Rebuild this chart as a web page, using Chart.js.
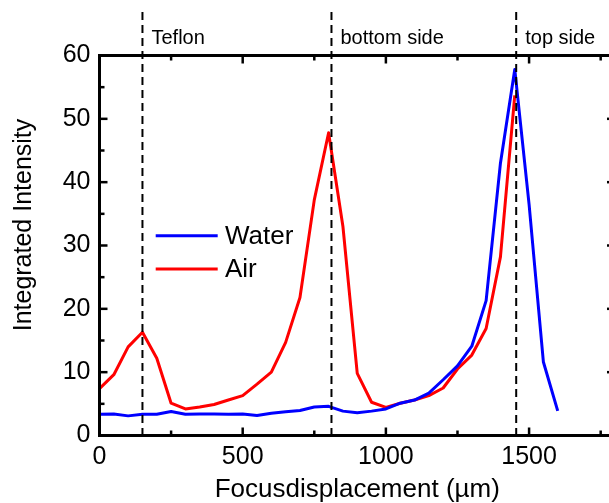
<!DOCTYPE html>
<html><head><meta charset="utf-8">
<script src="https://cdn.jsdelivr.net/npm/chart.js@4.4.0/dist/chart.umd.min.js"></script>
<style>
html,body{margin:0;padding:0;background:#fff;overflow:hidden}
#wrap{width:609px;height:503px;overflow:hidden;position:relative;background:#fff}
#c{position:absolute;left:0;top:0}
</style></head><body>
<div id="wrap"><canvas id="c" width="640" height="503"></canvas></div>
<script>
const xPositions = [0,50,100,150,200,250,300,350,400,450,500,550,600,650,700,750,800,850,900,950,1000,1050,1100,1150,1200,1250,1300,1350,1400,1450,1500,1550,1600];
const waterValues = [3.35,3.4,3.1,3.35,3.35,3.8,3.35,3.4,3.4,3.35,3.4,3.15,3.5,3.75,3.95,4.5,4.6,3.85,3.6,3.85,4.2,5.1,5.6,6.7,8.8,11.0,14.1,21.3,43,57.8,36.5,11.6,3.9];
const airValues = [7.4,9.6,14.0,16.3,12.2,5.1,4.2,4.5,4.9,5.6,6.3,8.1,10.0,14.7,21.8,37.2,47.8,33.0,9.8,5.25,4.45,5.1,5.6,6.3,7.5,10.5,12.7,16.9,28.2,53.7];
const seriesNames = ['Water','Air'];
const xMajorTicks = [0,500,1000,1500];
const xMinorTicks = [250,750,1250,1750];
const yMajorTicks = [0,10,20,30,40,50,60];
const yMinorTicks = [5,15,25,35,45,55];
const markerPositions = [150,810,1455];
const markerLabels = ['Teflon','bottom side','top side'];
const xTitle = 'Focusdisplacement (\u00b5m)';
const yTitle = 'Integrated Intensity';

const FONT = '"Liberation Sans", Arial, sans-serif';
const colors = ['#0000ff','#ff0000'];

const overlay = {
  id:'overlay',
  afterDatasetsDraw(chart){
    const {ctx, chartArea:a, scales:{x,y}} = chart;
    ctx.save();
    // dashed marker lines
    ctx.strokeStyle='#000'; ctx.lineWidth=2; ctx.setLineDash([8,5]);
    markerPositions.forEach(v=>{
      const p = x.getPixelForValue(v);
      ctx.beginPath(); ctx.moveTo(p,12); ctx.lineTo(p,a.bottom); ctx.stroke();
    });
    ctx.setLineDash([]);
    ctx.fillStyle='#000';
    ctx.font='20px '+FONT; ctx.textAlign='left'; ctx.textBaseline='alphabetic';
    markerPositions.forEach((v,i)=>{
      ctx.fillText(markerLabels[i], x.getPixelForValue(v)+9, 43.5);
    });
    // frame
    ctx.lineWidth=3; ctx.strokeStyle='#000';
    ctx.strokeRect(a.left,a.top,a.right-a.left,a.bottom-a.top);
    // inward ticks
    ctx.lineWidth=2.5;
    const seg=(x1,y1,x2,y2)=>{ctx.beginPath();ctx.moveTo(x1,y1);ctx.lineTo(x2,y2);ctx.stroke();};
    xMajorTicks.forEach(v=>{const p=x.getPixelForValue(v); seg(p,a.bottom,p,a.bottom-8); seg(p,a.top,p,a.top+8);});
    xMinorTicks.forEach(v=>{const p=x.getPixelForValue(v); seg(p,a.bottom,p,a.bottom-5); seg(p,a.top,p,a.top+5);});
    yMajorTicks.forEach(v=>{const p=y.getPixelForValue(v); seg(a.left,p,a.left+8,p); seg(a.right,p,a.right-8,p);});
    yMinorTicks.forEach(v=>{const p=y.getPixelForValue(v); seg(a.left,p,a.left+5,p); seg(a.right,p,a.right-5,p);});
    // legend
    ctx.font='26px '+FONT; ctx.textBaseline='middle'; ctx.textAlign='left';
    const ly=[235.7,269];
    seriesNames.forEach((n,i)=>{
      ctx.strokeStyle=colors[i]; ctx.lineWidth=3;
      seg(155.7,ly[i],217.7,ly[i]);
      ctx.fillStyle='#000'; ctx.fillText(n,225,ly[i]+1);
    });
    // y title
    ctx.save();
    ctx.translate(24,225); ctx.rotate(-Math.PI/2);
    ctx.font='25px '+FONT; ctx.textAlign='center'; ctx.textBaseline='middle'; ctx.fillStyle='#000';
    ctx.fillText(yTitle,0,0);
    ctx.restore();
    ctx.restore();
  }
};

new Chart(document.getElementById('c'), {
  type:'line',
  data:{
    datasets:[
      {label:seriesNames[0], data:waterValues.map((v,i)=>({x:xPositions[i],y:v})), borderColor:colors[0], backgroundColor:colors[0], borderWidth:3, borderJoinStyle:'round', pointRadius:0, tension:0, fill:false},
      {label:seriesNames[1], data:airValues.map((v,i)=>({x:xPositions[i],y:v})), borderColor:colors[1], backgroundColor:colors[1], borderWidth:3, borderJoinStyle:'round', pointRadius:0, tension:0, fill:false}
    ]
  },
  options:{
    responsive:false, animation:false, devicePixelRatio:1,
    layout:{padding:{top:55.5,right:25,left:0,bottom:0}},
    plugins:{legend:{display:false}, tooltip:{enabled:false}, title:{display:false}},
    scales:{
      x:{type:'linear', position:'bottom', min:0, max:1800,
        afterBuildTicks:s=>{s.ticks = xMajorTicks.map(v=>({value:v}));},
        afterFit:s=>{s.height=67.5;},
        ticks:{font:{family:FONT,size:25}, color:'#000', padding:6.5, maxRotation:0, autoSkip:false, callback:v=>String(v)},
        grid:{display:false, drawTicks:false}, border:{display:false},
        title:{display:true, text:xTitle, font:{family:FONT,size:26,lineHeight:1}, color:'#000', padding:0}
      },
      y:{type:'linear', position:'left', min:0, max:60,
        afterBuildTicks:s=>{s.ticks = yMajorTicks.map(v=>({value:v}));},
        afterFit:s=>{s.width=99.5;},
        ticks:{font:{family:FONT,size:25}, color:'#000', padding:9, callback:v=>String(v)},
        grid:{display:false, drawTicks:false}, border:{display:false}
      }
    }
  },
  plugins:[overlay]
});
</script>
</body></html>
